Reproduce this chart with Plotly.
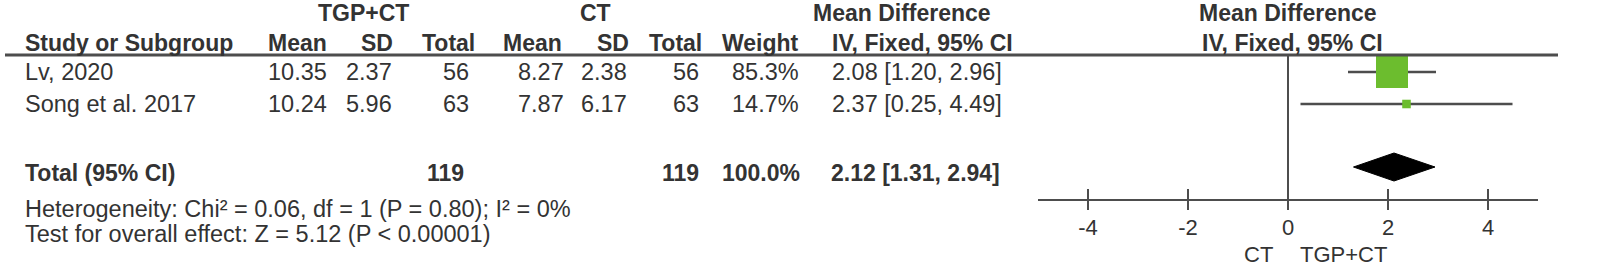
import plotly.graph_objects as go

# ---------------- data ----------------
studies = ["Lv, 2020", "Song et al. 2017"]
exp_mean = [10.35, 10.24]
exp_sd = [2.37, 5.96]
exp_total = [56, 63]
ctl_mean = [8.27, 7.87]
ctl_sd = [2.38, 6.17]
ctl_total = [56, 63]
weights = [85.3, 14.7]
md = [2.08, 2.37]
ci_low = [1.20, 0.25]
ci_high = [2.96, 4.49]

total_label = "Total (95% CI)"
total_exp = 119
total_ctl = 119
total_weight = 100.0
total_md = 2.12
total_low = 1.31
total_high = 2.94

heterogeneity = "Heterogeneity: Chi² = 0.06, df = 1 (P = 0.80); I² = 0%"
overall = "Test for overall effect: Z = 5.12 (P < 0.00001)"
tick_values = [-4, -2, 0, 2, 4]
favours_left = "CT"
favours_right = "TGP+CT"

# ---------------- layout constants ----------------
W, H = 1598, 268
FONT = "Liberation Sans, Arial, sans-serif"
FS = 23
FS_REG = 23.5
TXT = "#333333"
LINE = "#4d4d4d"
GREEN = "#6cbd2e"

LEFT_X = 23
ROW_H1 = 13
ROW_H2 = 43
HEADER_LINE_Y = 55
ROW_Y = [72, 104]
TOTAL_TEXT_Y = 173
DIAMOND_Y = 167
DIAMOND_HALF = 14
HET_Y = 209
OVERALL_Y = 234
AXIS_Y = 199.5

fig = go.Figure()


def px(x):
    return x / W


def text(x, y, s, anchor="left", bold=False, size=None):
    if size is None:
        size = FS if bold else FS_REG
    fig.add_annotation(
        x=px(x), y=y, xref="paper", yref="y",
        text=f"<b>{s}</b>" if bold else s,
        showarrow=False, xanchor=anchor, yanchor="middle",
        font=dict(family=FONT, size=size, color=TXT),
    )


# header texts
text(363, ROW_H1, "TGP+CT", "center", True)
text(595, ROW_H1, "CT", "center", True)
text(902, ROW_H1, "Mean Difference", "center", True)
text(1288, ROW_H1, "Mean Difference", "center", True)

text(LEFT_X, ROW_H2, "Study or Subgroup", "left", True)
text(329, ROW_H2, "Mean", "right", True)
text(395, ROW_H2, "SD", "right", True)
text(477, ROW_H2, "Total", "right", True)
text(564, ROW_H2, "Mean", "right", True)
text(631, ROW_H2, "SD", "right", True)
text(704, ROW_H2, "Total", "right", True)
text(801, ROW_H2, "Weight", "right", True)
text(922, ROW_H2, "IV, Fixed, 95% CI", "center", True)
text(1292, ROW_H2, "IV, Fixed, 95% CI", "center", True)

# study rows
for i, name in enumerate(studies):
    y = ROW_Y[i]
    text(LEFT_X, y, name, "left")
    text(329, y, f"{exp_mean[i]:.2f}", "right")
    text(394, y, f"{exp_sd[i]:.2f}", "right")
    text(471, y, f"{exp_total[i]}", "right")
    text(566, y, f"{ctl_mean[i]:.2f}", "right")
    text(629, y, f"{ctl_sd[i]:.2f}", "right")
    text(701, y, f"{ctl_total[i]}", "right")
    text(801, y, f"{weights[i]:.1f}%", "right")
    text(1004, y, f"{md[i]:.2f} [{ci_low[i]:.2f}, {ci_high[i]:.2f}]", "right")

# total row
text(LEFT_X, TOTAL_TEXT_Y, total_label, "left", True)
text(466, TOTAL_TEXT_Y, f"{total_exp}", "right", True)
text(701, TOTAL_TEXT_Y, f"{total_ctl}", "right", True)
text(802, TOTAL_TEXT_Y, f"{total_weight:.1f}%", "right", True)
text(1002, TOTAL_TEXT_Y, f"{total_md:.2f} [{total_low:.2f}, {total_high:.2f}]", "right", True)

text(LEFT_X, HET_Y, heterogeneity, "left")
text(LEFT_X, OVERALL_Y, overall, "left")

# header rule
fig.add_shape(type="line", xref="paper", yref="y", x0=px(5), x1=px(1558),
              y0=HEADER_LINE_Y, y1=HEADER_LINE_Y, line=dict(color=LINE, width=3))
# line of no effect
fig.add_shape(type="line", xref="x", yref="y", x0=0, x1=0,
              y0=HEADER_LINE_Y, y1=AXIS_Y, line=dict(color=LINE, width=2))

# confidence intervals and squares
for i in range(len(studies)):
    fig.add_trace(go.Scatter(x=[ci_low[i], ci_high[i]], y=[ROW_Y[i], ROW_Y[i]],
                             mode="lines", line=dict(color=LINE, width=2.5),
                             hoverinfo="skip", showlegend=False))
sizes = [32 * (w / max(weights)) ** 0.75 for w in weights]
fig.add_trace(go.Scatter(x=md, y=ROW_Y, mode="markers",
                         marker=dict(symbol="square", size=sizes, color=GREEN,
                                     opacity=1, line=dict(width=0)),
                         showlegend=False, hoverinfo="skip"))

# diamond
fig.add_trace(go.Scatter(
    x=[total_low, total_md, total_high, total_md, total_low],
    y=[DIAMOND_Y, DIAMOND_Y - DIAMOND_HALF, DIAMOND_Y, DIAMOND_Y + DIAMOND_HALF, DIAMOND_Y],
    mode="lines", fill="toself", fillcolor="black", line=dict(color="black", width=1),
    showlegend=False, hoverinfo="skip"))

# tick marks crossing axis
fig.add_trace(go.Scatter(x=tick_values, y=[AXIS_Y] * len(tick_values), mode="markers",
                         marker=dict(symbol="line-ns-open", size=15, color=LINE,
                                     line=dict(color=LINE, width=2)),
                         showlegend=False, hoverinfo="skip", cliponaxis=False))

# favours labels
fig.add_annotation(x=0, y=254, xref="x", yref="y", text=favours_left, showarrow=False,
                   xanchor="right", xshift=-13, font=dict(family=FONT, size=22, color=TXT))
fig.add_annotation(x=0, y=254, xref="x", yref="y", text=favours_right, showarrow=False,
                   xanchor="left", xshift=10, font=dict(family=FONT, size=22, color=TXT))

fig.update_layout(
    width=W, height=H, margin=dict(l=0, r=0, t=0, b=0),
    paper_bgcolor="white", plot_bgcolor="white",
    xaxis=dict(range=[-5, 5], domain=[px(1038), px(1538)], anchor="free",
               position=(H - AXIS_Y) / H, showline=True, linecolor=LINE, linewidth=2,
               showgrid=False, zeroline=False, ticks="", tickvals=tick_values,
               ticktext=[str(v) for v in tick_values],
               tickfont=dict(family=FONT, size=22, color=TXT), ticklabelstandoff=8),
    yaxis=dict(range=[H, 0], domain=[0, 1], visible=False, showgrid=False, zeroline=False),
)

fig.write_html("out.html", config={"displayModeBar": False},
               post_script="document.body.style.margin='0';document.body.style.overflow='hidden';")
